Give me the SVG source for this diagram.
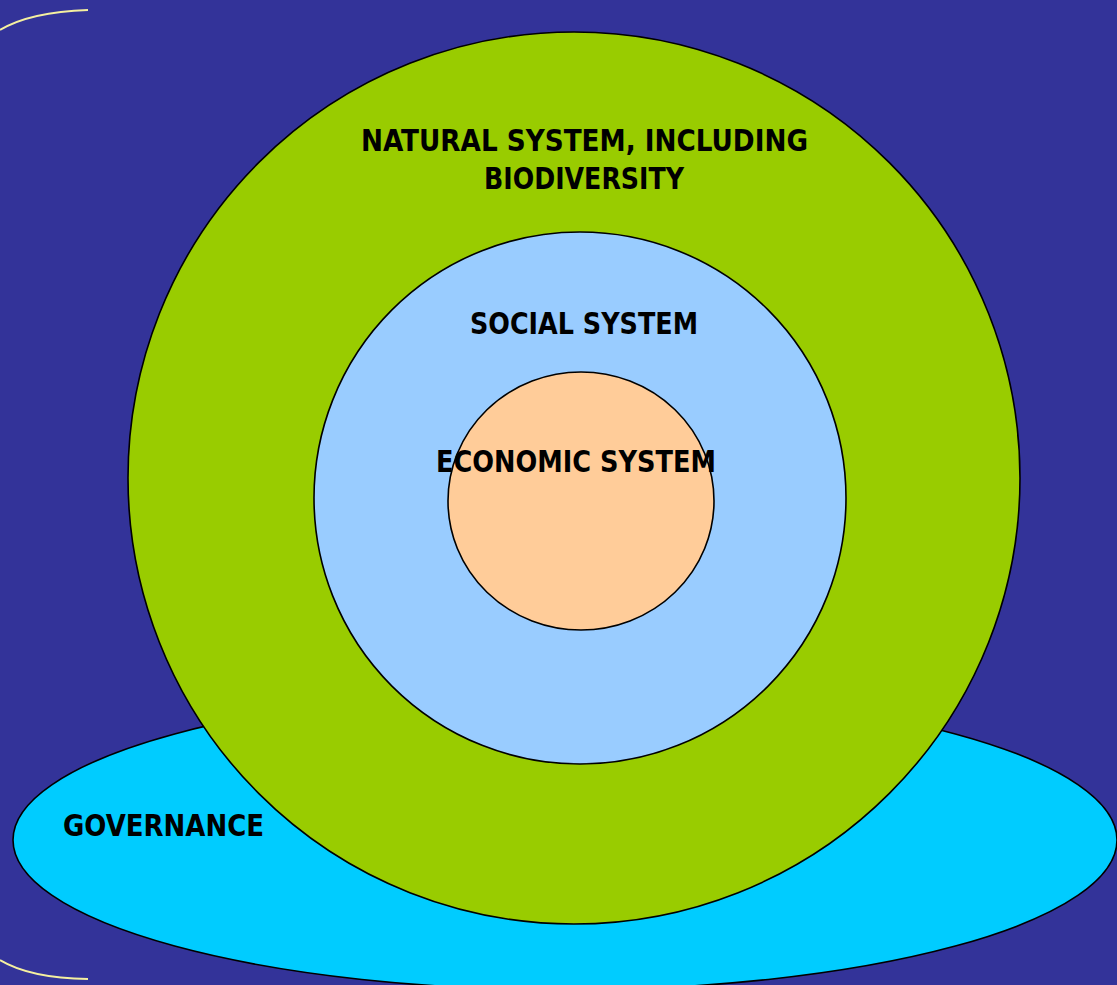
<svg xmlns="http://www.w3.org/2000/svg" width="1117" height="985" viewBox="0 0 1117 985">
<style>
.shape{stroke:#000;stroke-width:1.6}
.lbl{font-family:"DejaVu Sans Condensed","DejaVu Sans",sans-serif;font-weight:bold;font-size:30px;fill:#000;text-anchor:start}
.deco{fill:none;stroke:#f5f0a0;stroke-width:2}
</style>
<rect x="0" y="0" width="1117" height="985" fill="#333399"/>
<path class="deco" d="M0 30 Q30 12 88 10"/>
<path class="deco" d="M0 960 Q30 978 88 979"/>
<g id="governance">
<ellipse class="shape" cx="565" cy="840" rx="552" ry="150" fill="#00ccff"/>
<text class="lbl" x="63" y="836" textLength="201" lengthAdjust="spacingAndGlyphs">GOVERNANCE</text>
</g>
<g id="natural-system">
<circle class="shape" cx="574" cy="478" r="446" fill="#99cc00"/>
<text class="lbl" x="361" y="151" textLength="447" lengthAdjust="spacingAndGlyphs">NATURAL SYSTEM, INCLUDING</text>
<text class="lbl" x="484" y="189" textLength="200" lengthAdjust="spacingAndGlyphs">BIODIVERSITY</text>
</g>
<g id="social-system">
<circle class="shape" cx="580" cy="498" r="266" fill="#99ccff"/>
<text class="lbl" x="470" y="334" textLength="228" lengthAdjust="spacingAndGlyphs">SOCIAL SYSTEM</text>
</g>
<g id="economic-system">
<ellipse class="shape" cx="581" cy="501" rx="133" ry="129" fill="#ffcc99"/>
<text class="lbl" x="436" y="472" textLength="280" lengthAdjust="spacingAndGlyphs">ECONOMIC SYSTEM</text>
</g>
<g id="connectors"/>
</svg>
